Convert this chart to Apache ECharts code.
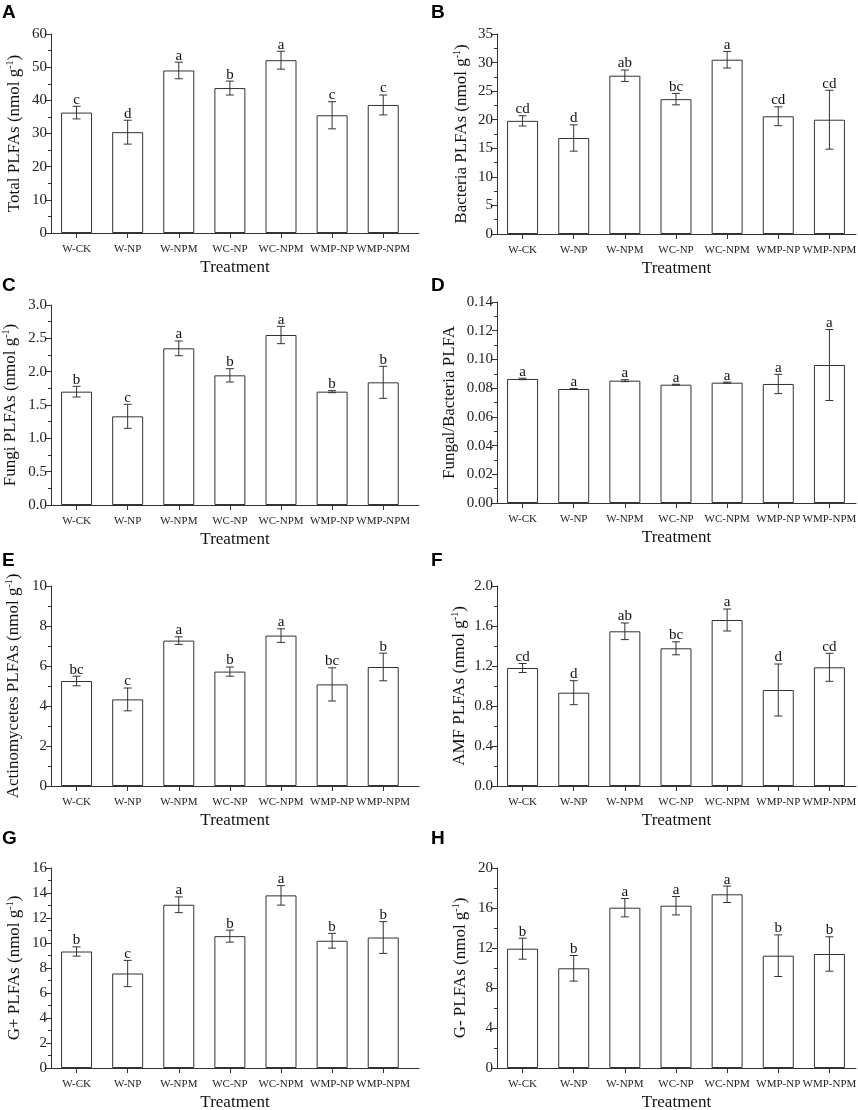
<!DOCTYPE html>
<html>
<head>
<meta charset="utf-8">
<script src="https://cdn.jsdelivr.net/npm/echarts@6/dist/echarts.min.js"></script>
<style>
  html, body { margin: 0; padding: 0; background: #fff; }
  #main { width: 858px; height: 1110px; }
</style>
</head>
<body>
<div id="main"></div>
<script>
var treatments = ['W-CK', 'W-NP', 'W-NPM', 'WC-NP', 'WC-NPM', 'WMP-NP', 'WMP-NPM'];
var catPos = [1, 2, 3, 4, 5, 6, 7];

// A total
var totalMean = [36.3, 30.4, 49.0, 43.7, 52.1, 35.5, 38.6];
var totalErr = [1.9, 3.6, 2.5, 2.1, 2.7, 4.1, 3.0];
var totalSig = ['c', 'd', 'a', 'b', 'a', 'c', 'c'];
// B bacteria
var bactMean = [19.8, 16.8, 27.7, 23.6, 30.5, 20.6, 20.0];
var bactErr = [0.9, 2.3, 1.0, 1.0, 1.45, 1.65, 5.15];
var bactSig = ['cd', 'd', 'ab', 'bc', 'a', 'cd', 'cd'];
// C fungi
var fungiMean = [1.70, 1.33, 2.35, 1.945, 2.55, 1.70, 1.84];
var fungiErr = [0.08, 0.18, 0.11, 0.10, 0.13, 0.015, 0.24];
var fungiSig = ['b', 'c', 'a', 'b', 'a', 'b', 'b'];
// D fungal/bacteria
var ratioMean = [0.0864, 0.0794, 0.0852, 0.0824, 0.0838, 0.0829, 0.0961];
var ratioErr = [0.0005, 0.0003, 0.0007, 0.0003, 0.0004, 0.0067, 0.0247];
var ratioSig = ['a', 'a', 'a', 'a', 'a', 'a', 'a'];
// E actinomycetes
var actMean = [5.25, 4.33, 7.27, 5.72, 7.52, 5.08, 5.95];
var actErr = [0.24, 0.57, 0.19, 0.23, 0.34, 0.83, 0.69];
var actSig = ['bc', 'c', 'a', 'b', 'a', 'bc', 'b'];
// F AMF
var amfMean = [1.18, 0.933, 1.547, 1.377, 1.66, 0.96, 1.187];
var amfErr = [0.045, 0.12, 0.083, 0.065, 0.11, 0.26, 0.14];
var amfSig = ['cd', 'd', 'ab', 'bc', 'a', 'd', 'cd'];
// G G+
var gposMean = [9.32, 7.56, 13.06, 10.55, 13.81, 10.18, 10.44];
var gposErr = [0.37, 1.05, 0.63, 0.48, 0.78, 0.59, 1.27];
var gposSig = ['b', 'c', 'a', 'b', 'a', 'b', 'b'];
// H G-
var gnegMean = [11.93, 9.97, 16.03, 16.23, 17.37, 11.23, 11.4];
var gnegErr = [1.05, 1.28, 0.92, 0.92, 0.82, 2.08, 1.72];
var gnegSig = ['b', 'b', 'a', 'a', 'a', 'b', 'b'];

var panelLetters = ['A', 'B', 'C', 'D', 'E', 'F', 'G', 'H'];
var yTitles = [
    'Total PLFAs (nmol g{sup|-1})',
    'Bacteria PLFAs (nmol g{sup|-1})',
    'Fungi PLFAs (nmol g{sup|-1})',
    'Fungal/Bacteria PLFA',
    'Actinomycetes PLFAs (nmol g{sup|-1})',
    'AMF PLFAs (nmol g{sup|-1})',
    'G+ PLFAs (nmol g{sup|-1})',
    'G- PLFAs (nmol g{sup|-1})'
];
var yMax = [60, 35, 3, 0.14, 10, 2, 16, 20];
var yStep = [10, 5, 0.5, 0.02, 2, 0.4, 2, 4];
var yDigits = [0, 0, 1, 2, 0, 1, 0, 0];

var means = [totalMean, bactMean, fungiMean, ratioMean, actMean, amfMean, gposMean, gnegMean];
var errs = [totalErr, bactErr, fungiErr, ratioErr, actErr, amfErr, gposErr, gnegErr];
var sigs = [totalSig, bactSig, fungiSig, ratioSig, actSig, amfSig, gposSig, gnegSig];

// layout of the 8 plot areas
var gridTop = [34, 34, 305, 302, 586, 586, 868, 868];
var gridH = [199, 200, 200, 201, 200, 200, 200, 200];
var letterTop = [3, 3, 276, 276, 551, 551, 829, 829];
var nameGaps = [27, 26, 31, 38, 28, 28, 27, 27];

var serif = '"Liberation Serif", "Times New Roman", serif';
var ink = '#333';

var chart = echarts.init(document.getElementById('main'));

var grids = [], xAxes = [], yAxes = [], series = [], titles = [];

function makeErr(k) {
    return function (params, api) {
        var x = api.value(0), m = api.value(1), e = api.value(2);
        var top = api.coord([x, m + e]);
        var bot = api.coord([x, m - e]);
        var cap = 4;
        var ls = { stroke: ink, lineWidth: 1 };
        return {
            type: 'group',
            children: [
                { type: 'line', shape: { x1: top[0], y1: top[1], x2: bot[0], y2: bot[1] }, style: ls },
                { type: 'line', shape: { x1: top[0] - cap, y1: top[1], x2: top[0] + cap, y2: top[1] }, style: ls },
                { type: 'line', shape: { x1: bot[0] - cap, y1: bot[1], x2: bot[0] + cap, y2: bot[1] }, style: ls },
                {
                    type: 'text',
                    style: {
                        text: sigs[k][params.dataIndex],
                        x: top[0], y: top[1] + 1,
                        textAlign: 'center', textVerticalAlign: 'bottom',
                        font: '15px ' + serif, fill: '#111'
                    }
                }
            ]
        };
    };
}

for (var k = 0; k < 8; k++) {
    var right = k % 2 == 1;
    grids.push({
        left: right ? 497 : 51,
        top: gridTop[k],
        width: right ? 359 : 368,
        height: gridH[k],
        containLabel: false,
        outerBoundsMode: 'none'
    });
    xAxes.push({
        type: 'value',
        gridIndex: k,
        min: 0.5,
        max: right ? 7.52 : 7.7,
        name: 'Treatment',
        nameLocation: 'middle',
        nameGap: 26,
        nameTextStyle: { fontFamily: serif, fontSize: 17, color: '#111' },
        axisLine: { show: true, lineStyle: { color: ink, width: 1 } },
        axisTick: { show: true, length: 5, customValues: catPos, lineStyle: { color: ink } },
        axisLabel: {
            customValues: catPos,
            margin: 11,
            fontFamily: serif, fontSize: 11, color: '#222',
            formatter: function (v) { return treatments[Math.round(v) - 1]; }
        },
        splitLine: { show: false }
    });
    (function (d) {
        yAxes.push({
            type: 'value',
            gridIndex: k,
            min: 0,
            max: yMax[k],
            interval: yStep[k],
            name: yTitles[k],
            nameLocation: 'middle',
            nameRotate: 90,
            nameGap: nameGaps[k],
            nameTextStyle: {
                fontFamily: serif, fontSize: 17, color: '#111', lineHeight: 19,
                rich: { sup: { fontFamily: serif, fontSize: 10, verticalAlign: 'top', color: '#111', lineHeight: 19 } }
            },
            axisLine: { show: true, lineStyle: { color: ink, width: 1 } },
            axisTick: { show: true, length: 5, lineStyle: { color: ink } },
            minorTick: { show: true, splitNumber: 2, length: 3, lineStyle: { color: ink } },
            axisLabel: {
                margin: 4,
                fontFamily: serif, fontSize: 15, color: '#222',
                formatter: function (v) { return v.toFixed(d); }
            },
            splitLine: { show: false },
            minorSplitLine: { show: false }
        });
    })(yDigits[k]);

    var barData = [], errData = [];
    for (var i = 0; i < treatments.length; i++) {
        barData.push([catPos[i], means[k][i]]);
        errData.push([catPos[i], means[k][i], errs[k][i]]);
    }
    series.push({
        type: 'bar',
        xAxisIndex: k,
        yAxisIndex: k,
        barWidth: 31,
        data: barData,
        itemStyle: { color: '#fff', borderColor: ink, borderWidth: 1 },
        silent: true
    });
    series.push({
        type: 'custom',
        xAxisIndex: k,
        yAxisIndex: k,
        renderItem: makeErr(k),
        data: errData,
        encode: { x: 0, y: 1 },
        z: 5,
        silent: true
    });
    titles.push({
        text: panelLetters[k],
        left: right ? 431 : 2,
        top: letterTop[k],
        padding: 0,
        textStyle: { fontFamily: '"Liberation Sans", Arial, sans-serif', fontSize: 19, fontWeight: 'bold', color: '#000' }
    });
}

chart.setOption({
    animation: false,
    backgroundColor: '#fff',
    title: titles,
    grid: grids,
    xAxis: xAxes,
    yAxis: yAxes,
    series: series
});
</script>
</body>
</html>
